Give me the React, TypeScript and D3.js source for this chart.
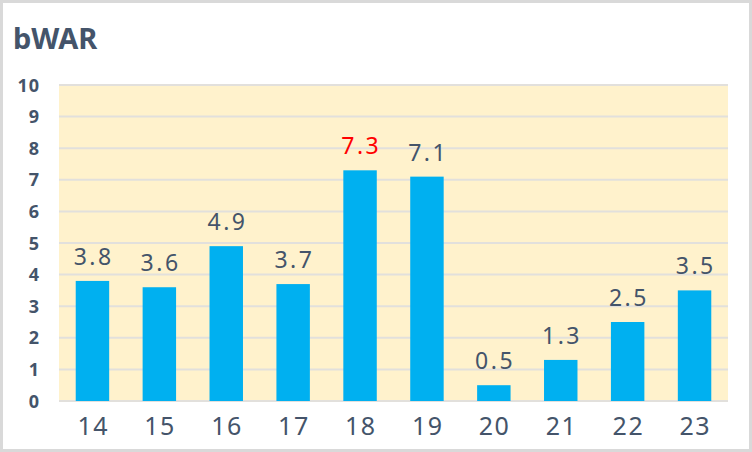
import { useEffect, useRef } from 'react';
import * as d3 from 'd3';

const seasons = ['14', '15', '16', '17', '18', '19', '20', '21', '22', '23'];
const bwar = [3.8, 3.6, 4.9, 3.7, 7.3, 7.1, 0.5, 1.3, 2.5, 3.5];
const yTicks = [0, 1, 2, 3, 4, 5, 6, 7, 8, 9, 10];
const highlight = '18';

const W = 752;
const H = 452;
const FONT = '"Noto Sans", "Open Sans", sans-serif';
const TEXT = '#44546a';

export default function App() {
  const svgRef = useRef<SVGSVGElement>(null);

  useEffect(() => {
    if (!svgRef.current) return;
    const svg = d3.select(svgRef.current);
    svg.selectAll('*').remove();

    const margin = { top: 85, right: 24, bottom: 51, left: 59 };
    const x0 = margin.left;
    const x1 = W - margin.right;
    const y0 = H - margin.bottom;
    const y1 = margin.top;

    // card with light gray frame
    svg.append('rect')
      .attr('x', 1.5).attr('y', 1.5)
      .attr('width', W - 3).attr('height', H - 3)
      .attr('fill', '#ffffff')
      .attr('stroke', '#d9d9d9')
      .attr('stroke-width', 3);

    const x = d3.scaleBand().domain(seasons).range([x0, x1])
      .paddingInner(0.5).paddingOuter(0.25);
    const y = d3.scaleLinear().domain([0, 10]).range([y0, y1]);

    // plot background
    svg.append('rect')
      .attr('x', x0).attr('y', y1)
      .attr('width', x1 - x0).attr('height', y0 - y1)
      .attr('fill', '#fff2cc');

    // grid
    svg.selectAll('.grid')
      .data(yTicks)
      .enter()
      .append('line')
      .attr('x1', x0).attr('x2', x1)
      .attr('y1', d => y(d)).attr('y2', d => y(d))
      .attr('stroke', '#e2e0dc')
      .attr('stroke-width', 2);

    // title
    svg.append('text')
      .attr('x', 13).attr('y', 49)
      .attr('fill', TEXT)
      .style('font-family', FONT)
      .style('font-size', '29px')
      .style('font-weight', '700')
      .text('bWAR');

    // y tick labels
    svg.selectAll('.ylab')
      .data(yTicks)
      .enter()
      .append('text')
      .attr('x', 40)
      .attr('y', d => y(d) + 6.5)
      .attr('text-anchor', 'end')
      .attr('fill', TEXT)
      .style('font-family', FONT)
      .style('font-size', '18px')
      .style('font-weight', '700')
      .style('letter-spacing', '1px')
      .text(d => d);

    // bars
    svg.selectAll('.bar')
      .data(seasons)
      .enter()
      .append('rect')
      .attr('x', d => x(d) || 0)
      .attr('y', (_, i) => y(bwar[i]))
      .attr('width', x.bandwidth())
      .attr('height', (_, i) => y0 - y(bwar[i]))
      .attr('fill', '#00b0f0');

    // value labels
    svg.selectAll('.val')
      .data(seasons)
      .enter()
      .append('text')
      .attr('x', d => (x(d) || 0) + x.bandwidth() / 2 + 1.25)
      .attr('y', (_, i) => y(bwar[i]) - 16)
      .attr('text-anchor', 'middle')
      .attr('fill', d => (d === highlight ? '#ff0000' : TEXT))
      .style('font-family', FONT)
      .style('font-size', '23px')
      .style('letter-spacing', '2.5px')
      .text((_, i) => bwar[i].toFixed(1));

    // x tick labels
    svg.selectAll('.xlab')
      .data(seasons)
      .enter()
      .append('text')
      .attr('x', d => (x(d) || 0) + x.bandwidth() / 2 + 0.75)
      .attr('y', 435)
      .attr('text-anchor', 'middle')
      .attr('fill', TEXT)
      .style('font-family', FONT)
      .style('font-size', '25px')
      .style('letter-spacing', '1.5px')
      .text(d => d);
  }, []);

  return (
    <div style={{ position: 'fixed', left: 0, top: 0 }}>
      <svg ref={svgRef} width={W} height={H} style={{ display: 'block' }} />
    </div>
  );
}
